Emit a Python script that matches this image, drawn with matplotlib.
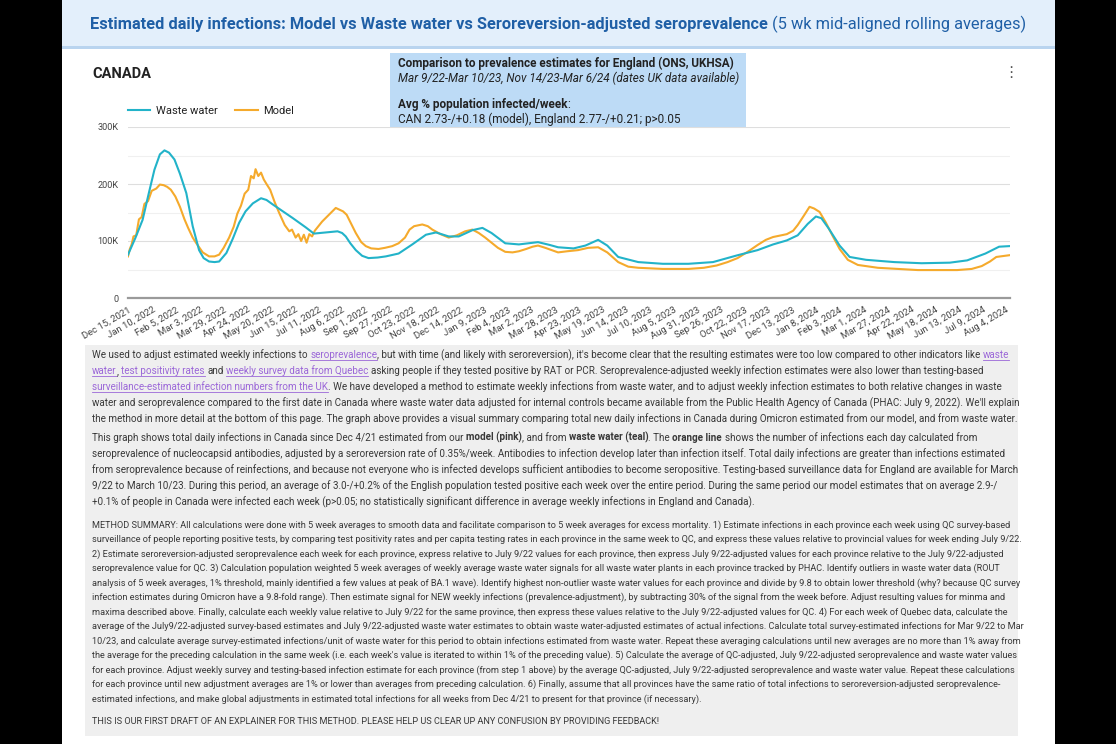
import matplotlib
matplotlib.use("Agg")
import matplotlib.pyplot as plt
import pandas as pd
from matplotlib.patches import Rectangle
from matplotlib.lines import Line2D

plt.rcParams["font.family"] = ["Roboto", "DejaVu Sans"]

# ---- data (thousands of new daily infections) ----
waste_dates = [
    "2021-12-12", "2021-12-20", "2021-12-28", "2022-01-04", "2022-01-10", "2022-01-16",
    "2022-01-21", "2022-01-26", "2022-02-01", "2022-02-07", "2022-02-14", "2022-02-21",
    "2022-02-28", "2022-03-05", "2022-03-11", "2022-03-17", "2022-03-22", "2022-03-30",
    "2022-04-06", "2022-04-13", "2022-04-20", "2022-04-28", "2022-05-07", "2022-05-13",
    "2022-05-20", "2022-05-31", "2022-06-11", "2022-06-25", "2022-07-04", "2022-07-17",
    "2022-07-30", "2022-08-04", "2022-08-08", "2022-08-13", "2022-08-19", "2022-08-26",
    "2022-09-02", "2022-09-12", "2022-09-21", "2022-10-05", "2022-10-20", "2022-11-04",
    "2022-11-15", "2022-11-29", "2022-12-10", "2022-12-25", "2023-01-05", "2023-01-15",
    "2023-01-30", "2023-02-14", "2023-03-07", "2023-03-20", "2023-03-29", "2023-04-15",
    "2023-04-28", "2023-05-12", "2023-05-22", "2023-06-03", "2023-06-25", "2023-07-22",
    "2023-08-19", "2023-09-15", "2023-10-12", "2023-11-03", "2023-11-20", "2023-12-05",
    "2023-12-17", "2023-12-28", "2024-01-06", "2024-01-12", "2024-01-20", "2024-02-01",
    "2024-02-12", "2024-03-01", "2024-04-01", "2024-05-01", "2024-06-01", "2024-06-20",
    "2024-07-10", "2024-07-25", "2024-08-05",
]
waste_k = [
    76, 105, 137, 185, 225, 252,
    259, 255, 243, 218, 184, 126,
    84, 70, 64, 63, 64, 79,
    104, 132, 152, 166, 175, 172,
    164, 152, 140, 124, 113, 115,
    117, 114, 108, 96, 84, 74,
    70, 71, 73, 78, 94, 111,
    115, 108, 108, 119, 123, 114,
    96, 94, 98, 93, 89, 87,
    92, 102, 92, 72, 63, 60,
    60, 63, 75, 84, 94, 101,
    110, 130, 143, 140, 122, 92,
    72, 67, 63, 61, 62, 66,
    78, 90, 91,
]

model_dates = [
    "2021-12-12", "2021-12-14", "2021-12-16", "2021-12-18", "2021-12-21", "2021-12-24",
    "2021-12-27", "2021-12-30", "2022-01-03", "2022-01-07", "2022-01-12", "2022-01-16",
    "2022-01-20", "2022-01-24", "2022-01-28", "2022-02-02", "2022-02-07", "2022-02-12",
    "2022-02-16", "2022-02-21", "2022-02-25", "2022-03-04", "2022-03-11", "2022-03-17",
    "2022-03-22", "2022-03-27", "2022-04-02", "2022-04-07", "2022-04-11", "2022-04-15",
    "2022-04-19", "2022-04-23", "2022-04-26", "2022-04-29", "2022-05-01", "2022-05-04",
    "2022-05-07", "2022-05-10", "2022-05-13", "2022-05-17", "2022-05-22", "2022-05-27",
    "2022-06-02", "2022-06-07", "2022-06-10", "2022-06-14", "2022-06-17", "2022-06-20",
    "2022-06-23", "2022-06-26", "2022-06-29", "2022-07-02", "2022-07-05", "2022-07-09",
    "2022-07-13", "2022-07-18", "2022-07-23", "2022-07-28", "2022-08-01", "2022-08-05",
    "2022-08-09", "2022-08-14", "2022-08-19", "2022-08-25", "2022-08-30", "2022-09-05",
    "2022-09-13", "2022-09-20", "2022-09-28", "2022-10-05", "2022-10-12", "2022-10-17",
    "2022-10-22", "2022-10-31", "2022-11-06", "2022-11-11", "2022-11-20", "2022-11-29",
    "2022-12-08", "2022-12-17", "2022-12-25", "2023-01-01", "2023-01-08", "2023-01-15",
    "2023-01-22", "2023-01-30", "2023-02-07", "2023-02-14", "2023-02-22", "2023-03-01",
    "2023-03-07", "2023-03-15", "2023-03-22", "2023-03-29", "2023-04-08", "2023-04-20",
    "2023-05-01", "2023-05-12", "2023-05-22", "2023-06-03", "2023-06-14", "2023-06-25",
    "2023-07-22", "2023-08-19", "2023-09-05", "2023-09-19", "2023-10-01", "2023-10-12",
    "2023-10-24", "2023-11-03", "2023-11-12", "2023-11-20", "2023-12-05", "2023-12-12",
    "2023-12-17", "2023-12-24", "2023-12-30", "2024-01-04", "2024-01-10", "2024-01-17",
    "2024-01-24", "2024-02-01", "2024-02-10", "2024-02-21", "2024-03-14", "2024-04-27",
    "2024-06-09", "2024-06-25", "2024-07-06", "2024-07-15", "2024-07-22", "2024-08-05",
]
model_k = [
    73, 86, 94, 108, 110, 138,
    142, 165, 170, 188, 192, 199,
    198, 195, 190, 178, 160, 138,
    123, 106, 96, 80, 73, 73,
    76, 88, 106, 125, 148, 162,
    183, 190, 214, 210, 226, 214,
    220, 208, 200, 190, 168, 149,
    128, 117, 120, 106, 112, 100,
    111, 97, 112, 108, 118, 126,
    134, 142, 150, 158, 155, 152,
    146, 130, 114, 98, 91, 87,
    86, 88, 91, 96, 106, 120,
    126, 129, 126, 120, 112, 106,
    110, 117, 120, 114, 106, 97,
    88, 81, 80, 82, 86, 90,
    92, 88, 84, 80, 82, 84,
    88, 89, 80, 63, 55, 53,
    51, 51, 53, 57, 63, 70,
    82, 93, 102, 107, 112, 118,
    128, 145, 160, 157, 151, 132,
    110, 86, 67, 58, 53, 49,
    49, 51, 56, 64, 72, 75,
]

y_ticks = [0, 100000, 200000, 300000]
y_tick_labels = ["0", "100K", "200K", "300K"]
x_tick_labels = [
    "Dec 15, 2021", "Jan 10, 2022", "Feb 5, 2022", "Mar 3, 2022", "Mar 29, 2022",
    "Apr 24, 2022", "May 20, 2022", "Jun 15, 2022", "Jul 11, 2022", "Aug 6, 2022",
    "Sep 1, 2022", "Sep 27, 2022", "Oct 23, 2022", "Nov 18, 2022", "Dec 14, 2022",
    "Jan 9, 2023", "Feb 4, 2023", "Mar 2, 2023", "Mar 28, 2023", "Apr 23, 2023",
    "May 19, 2023", "Jun 14, 2023", "Jul 10, 2023", "Aug 5, 2023", "Aug 31, 2023",
    "Sep 26, 2023", "Oct 22, 2023", "Nov 17, 2023", "Dec 13, 2023", "Jan 8, 2024",
    "Feb 3, 2024", "Mar 1, 2024", "Mar 27, 2024", "Apr 22, 2024", "May 18, 2024",
    "Jun 13, 2024", "Jul 9, 2024", "Aug 4, 2024",
]

title_bold = "Estimated daily infections: Model vs Waste water vs Seroreversion-adjusted seroprevalence"
title_rest = "(5 wk mid-aligned rolling averages)"

para1 = [
    [("We used to adjust estimated weekly infections to ", ""), ("seroprevalence", "link"),
     (", but with time (and likely with seroreversion), it's become clear that the resulting estimates were too low compared to other indicators like ", ""),
     ("waste", "link")],
    [("water", "link"), (", ", ""), ("test positivity rates", "link"), (" and ", ""),
     ("weekly survey data from Quebec", "link"),
     (" asking people if they tested positive by RAT or PCR. Seroprevalence-adjusted weekly infection estimates were also lower than testing-based", "")],
    [("surveillance-estimated infection numbers from the UK", "link"),
     (". We have developed a method to estimate weekly infections from waste water, and to adjust weekly infection estimates to both relative changes in waste", "")],
    [("water and seroprevalence compared to the first date in Canada where waste water data adjusted for internal controls became available from the Public Health Agency of Canada (PHAC: July 9, 2022). We'll explain", "")],
    [("the method in more detail at the bottom of this page. The graph above provides a visual summary comparing total new daily infections in Canada during Omicron estimated from our model, and from waste water.", "")],
]
para2 = [
    [("This graph shows total daily infections in Canada since Dec 4/21 estimated from our ", ""), ("model (pink)", "b"),
     (", and from ", ""), ("waste water (teal)", "b"), (". The ", ""), ("orange line", "b"),
     (" shows the number of infections each day calculated from", "")],
    [("seroprevalence of nucleocapsid antibodies, adjusted by a seroreversion rate of 0.35%/week. Antibodies to infection develop later than infection itself. Total daily infections are greater than infections estimated", "")],
    [("from seroprevalence because of reinfections, and because not everyone who is infected develops sufficient antibodies to become seropositive. Testing-based surveillance data for England are available for March", "")],
    [("9/22 to March 10/23. During this period, an average of 3.0-/+0.2% of the English population tested positive each week over the entire period. During the same period our model estimates that on average 2.9-/", "")],
    [("+0.1% of people in Canada were infected each week (p>0.05; no statistically significant difference in average weekly infections in England and Canada).", "")],
]
method = [
    "METHOD SUMMARY: All calculations were done with 5 week averages to smooth data and facilitate comparison to 5 week averages for excess mortality. 1) Estimate infections in each province each week using QC survey-based",
    "surveillance of people reporting positive tests, by comparing test positivity rates and per capita testing rates in each province in the same week to QC, and express these values relative to provincial values for week ending July 9/22.",
    "2) Estimate seroreversion-adjusted seroprevalence each week for each province, express relative to July 9/22 values for each province, then express July 9/22-adjusted values for each province relative to the July 9/22-adjusted",
    "seroprevalence value for QC. 3) Calculation population weighted 5 week averages of weekly average waste water signals for all waste water plants in each province tracked by PHAC. Identify outliers in waste water data (ROUT",
    "analysis of 5 week averages, 1% threshold, mainly identified a few values at peak of BA.1 wave). Identify highest non-outlier waste water values for each province and divide by 9.8 to obtain lower threshold (why? because QC survey",
    "infection estimates during Omicron have a 9.8-fold range). Then estimate signal for NEW weekly infections (prevalence-adjustment), by subtracting 30% of the signal from the week before. Adjust resulting values for minma and",
    "maxima described above. Finally, calculate each weekly value relative to July 9/22 for the same province, then express these values relative to the July 9/22-adjusted values for QC. 4) For each week of Quebec data, calculate the",
    "average of the July9/22-adjusted survey-based estimates and July 9/22-adjusted waste water estimates to obtain waste water-adjusted estimates of actual infections. Calculate total survey-estimated infections for Mar 9/22 to Mar",
    "10/23, and calculate average survey-estimated infections/unit of waste water for this period to obtain infections estimated from waste water. Repeat these averaging calculations until new averages are no more than 1% away from",
    "the average for the preceding calculation in the same week (i.e. each week's value is iterated to within 1% of the preceding value). 5) Calculate the average of QC-adjusted, July 9/22-adjusted seroprevalence and waste water values",
    "for each province. Adjust weekly survey and testing-based infection estimate for each province (from step 1 above) by the average QC-adjusted, July 9/22-adjusted seroprevalence and waste water value. Repeat these calculations",
    "for each province until new adjustment averages are 1% or lower than averages from preceding calculation. 6) Finally, assume that all provinces have the same ratio of total infections to seroreversion-adjusted seroprevalence-",
    "estimated infections, and make global adjustments in estimated total infections for all weeks from Dec 4/21 to present for that province (if necessary).",
]
footer = "THIS IS OUR FIRST DRAFT OF AN EXPLAINER FOR THIS METHOD. PLEASE HELP US CLEAR UP ANY CONFUSION BY PROVIDING FEEDBACK!"

TEAL = "#22b3c9"
ORANGE = "#f5aa2c"
LINK = "#9b67d8"
TEXT = "#383838"

W, H = 1116, 744
fig = plt.figure(figsize=(W / 100, H / 100), dpi=100, facecolor="black")
renderer = fig.canvas.get_renderer()


def fx(x):
    return x / W


def fy(y):
    return 1 - y / H


def box(x0, y0, x1, y1, color):
    fig.add_artist(Rectangle((fx(x0), fy(y1)), (x1 - x0) / W, (y1 - y0) / H,
                             transform=fig.transFigure, facecolor=color,
                             edgecolor="none", zorder=0))


def measure(s, **kw):
    t = fig.text(0, 0, s, **kw)
    w = t.get_window_extent(renderer).width
    t.remove()
    return w


def draw_line(x, y, runs, size, color=TEXT):
    sp = measure("a a", fontsize=size) - measure("aa", fontsize=size)
    cx = x
    for text, kind in runs:
        kw = dict(fontsize=size, color=color)
        if kind == "b":
            kw["fontweight"] = "bold"
        if kind == "i":
            kw["fontstyle"] = "italic"
        if kind == "link":
            kw["color"] = LINK
        if text.startswith(" "):
            cx += sp
        body = text.strip(" ")
        if body:
            t = fig.text(fx(cx), fy(y), body, ha="left", va="baseline", **kw)
            w = t.get_window_extent(renderer).width
            if kind == "link":
                fig.add_artist(Line2D([fx(cx), fx(cx + w)], [fy(y + 2), fy(y + 2)],
                                      transform=fig.transFigure, color=LINK, lw=0.6))
            cx += w
            if text.endswith(" "):
                cx += sp
    return cx


# ---- page background pieces ----
box(62, 0, 1055, 47, "#e3effb")
box(62, 46, 1055, 49, "#b9d4ef")
box(62, 49, 1055, 744, "white")
box(85, 345, 1018, 736, "#efefef")
box(390, 53, 746, 131, "#bddbf6")

draw_line(90, 29.5, [(title_bold + " ", "b"), (title_rest, "")], 11.8, color="#1f5fa6")

fig.text(fx(92), fy(78), "CANADA", fontsize=10.5, fontweight="bold", color="#222222")
fig.text(fx(1011), fy(72), "\u22ee", fontsize=11, color="#555555", ha="center", va="center",
         family=["DejaVu Sans"])

draw_line(398, 67, [("Comparison to prevalence estimates for England (ONS, UKHSA)", "b")], 8.5, color="#222222")
draw_line(398, 82, [("Mar 9/22-Mar 10/23, Nov 14/23-Mar 6/24 (dates UK data available)", "i")], 8.5, color="#222222")
draw_line(398, 108, [("Avg % population infected/week", "b"), (":", "")], 8.5, color="#222222")
draw_line(398, 123, [("CAN 2.73-/+0.18 (model), England 2.77-/+0.21; p>0.05", "")], 8.5, color="#222222")

# ---- chart ----
ax = fig.add_axes([fx(128), fy(298), (1010 - 128) / W, (298 - 127) / H])
ax.set_facecolor("white")
wd = pd.to_datetime(waste_dates)
md = pd.to_datetime(model_dates)
ax.plot(wd, [v * 1000 for v in waste_k], color=TEAL, lw=1.5, label="Waste water", zorder=3)
ax.plot(md, [v * 1000 for v in model_k], color=ORANGE, lw=1.5, label="Model", zorder=2)

ax.set_ylim(0, 300000)
ax.set_xlim(pd.Timestamp("2021-12-12"), pd.Timestamp("2024-08-06"))
ax.set_yticks(y_ticks)
ax.set_yticklabels(y_tick_labels)
ax.set_yticks([50000, 150000, 250000], minor=True)
ax.grid(axis="y", which="major", color="#dedede", lw=0.8)
ax.grid(axis="y", which="minor", color="#f0f0f0", lw=0.8)
ax.set_axisbelow(True)
for s in ax.spines.values():
    s.set_visible(False)
ax.axhline(0, color="#9a9a9a", lw=1.6, zorder=4, clip_on=False)

ax.set_xticks(pd.to_datetime(x_tick_labels, format="%b %d, %Y"))
ax.set_xticklabels(x_tick_labels, rotation=30, ha="right", va="center",
                   rotation_mode="anchor")
ax.tick_params(axis="x", length=0, pad=8, labelsize=6.8, labelcolor="#444444")
ax.tick_params(axis="y", which="both", length=0, pad=7, labelsize=6.6, labelcolor="#444444")

leg = ax.legend(loc="lower left", bbox_to_anchor=(fx(128), fy(116)),
                bbox_transform=fig.transFigure, ncol=2, frameon=False,
                fontsize=8, handlelength=2.0, handletextpad=0.5, columnspacing=1.6,
                borderaxespad=0, borderpad=0)
for t in leg.get_texts():
    t.set_color("#222222")

# ---- explainer text ----
for i, runs in enumerate(para1):
    draw_line(92, 358 + 16 * i, runs, 7.1)
for i, runs in enumerate(para2):
    draw_line(92, 441 + 16 * i, runs, 7.1)
for i, line in enumerate(method):
    draw_line(92, 528 + 14.45 * i, [(line, "")], 6.6)
draw_line(92, 724, [(footer, "")], 6.6)

fig.savefig("out.png", dpi=100, facecolor="black")
